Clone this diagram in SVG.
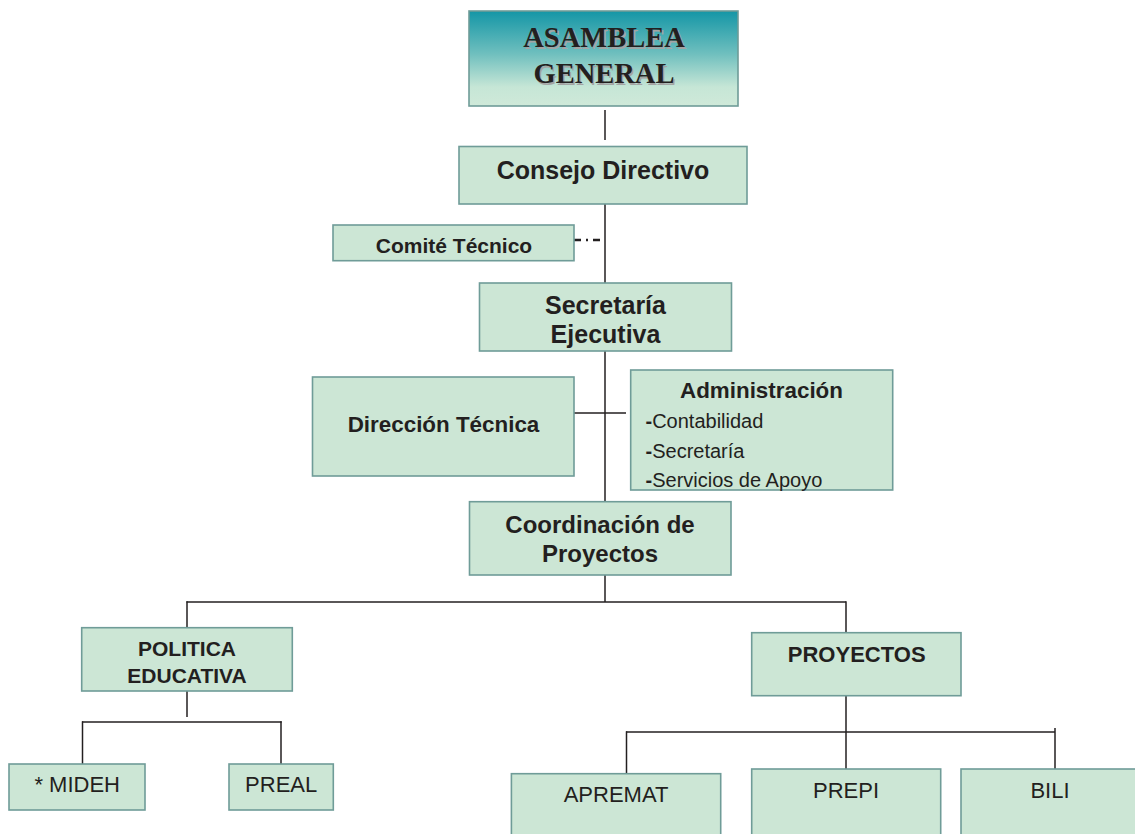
<svg xmlns="http://www.w3.org/2000/svg" width="1135" height="834" viewBox="0 0 1135 834">
  <defs>
    <linearGradient id="tealGrad" x1="0" y1="0" x2="0" y2="1">
      <stop offset="0" stop-color="#1496a6"/>
      <stop offset="0.45" stop-color="#6fbfbe"/>
      <stop offset="0.8" stop-color="#c6e6d6"/>
      <stop offset="1" stop-color="#cfe9d9"/>
    </linearGradient>
    <style>
      .box { fill: #cce6d5; stroke: #6f9c98; stroke-width: 1.6; }
      .top { fill: url(#tealGrad); stroke: #6f9c98; stroke-width: 1.6; }
      .b { font-family: "Liberation Sans", Arial, sans-serif; font-weight: bold; fill: #231f20; text-anchor: middle; }
      .r { font-family: "Liberation Sans", Arial, sans-serif; fill: #231f20; text-anchor: middle; }
      .l { font-family: "Liberation Sans", Arial, sans-serif; fill: #231f20; font-size: 20px; }
      .d { font-weight: bold; }
      .serif { font-family: "Liberation Serif", "Times New Roman", serif; font-weight: bold; font-size: 28.5px; text-anchor: middle; }
      .conn line { stroke: #231f20; stroke-width: 1.5; }
    </style>
  </defs>
  <rect width="1135" height="834" fill="#ffffff"/>

  <g class="conn" id="connectors">
    <line x1="605" y1="110" x2="605" y2="140"/>
    <line x1="605" y1="204" x2="605" y2="283"/>
    <line x1="574" y1="240" x2="603" y2="240" style="stroke-width:2.6;stroke-dasharray:7,5,2,5"/>
    <line x1="605" y1="351" x2="605" y2="502"/>
    <line x1="574" y1="413" x2="626" y2="413"/>
    <line x1="605" y1="575" x2="605" y2="602"/>
    <line x1="186.5" y1="602" x2="846" y2="602"/>
    <line x1="187" y1="601.3" x2="187" y2="628"/>
    <line x1="846" y1="601.3" x2="846" y2="633"/>
    <line x1="187" y1="691" x2="187" y2="717"/>
    <line x1="82" y1="722" x2="281.7" y2="722"/>
    <line x1="82.5" y1="721.3" x2="82.5" y2="764"/>
    <line x1="281" y1="721.3" x2="281" y2="764"/>
    <line x1="846" y1="696" x2="846" y2="769"/>
    <line x1="626" y1="732" x2="1055" y2="732"/>
    <line x1="626.5" y1="731.3" x2="626.5" y2="774"/>
    <line x1="1055" y1="728" x2="1055" y2="769"/>
  </g>

  <g id="asamblea">
    <rect class="top" x="469" y="11" width="269" height="95"/>
    <g fill="#a4a4a4">
      <text class="serif" x="605.5" y="48.5">ASAMBLEA</text>
      <text class="serif" x="605.5" y="84.5">GENERAL</text>
    </g>
    <g fill="#231f20">
      <text class="serif" x="604" y="47">ASAMBLEA</text>
      <text class="serif" x="604" y="83">GENERAL</text>
    </g>
  </g>

  <g id="consejo">
    <rect class="box" x="459" y="146.5" width="288" height="57.5"/>
    <text class="b" x="603" y="179" font-size="25">Consejo Directivo</text>
  </g>

  <g id="comite">
    <rect class="box" x="333" y="225" width="241" height="35.7"/>
    <text class="b" x="454" y="253" font-size="21">Comité Técnico</text>
  </g>

  <g id="secretaria">
    <rect class="box" x="479.5" y="283" width="252" height="68"/>
    <text class="b" x="605.5" y="314" font-size="25">Secretaría</text>
    <text class="b" x="605.5" y="343" font-size="25">Ejecutiva</text>
  </g>

  <g id="direccion">
    <rect class="box" x="312.5" y="377" width="261.5" height="99"/>
    <text class="b" x="443.5" y="431.7" font-size="22.4">Dirección Técnica</text>
  </g>

  <g id="administracion">
    <rect class="box" x="630.7" y="370" width="262" height="120"/>
    <text class="b" x="761.5" y="398" font-size="22.4">Administración</text>
    <text class="l" x="645.5" y="428.3"><tspan class="d">-</tspan>Contabilidad</text>
    <text class="l" x="645.5" y="458.3"><tspan class="d">-</tspan>Secretaría</text>
    <text class="l" x="645.5" y="486.7"><tspan class="d">-</tspan>Servicios de Apoyo</text>
  </g>

  <g id="coordinacion">
    <rect class="box" x="469.5" y="501.7" width="261.5" height="73.3"/>
    <text class="b" x="600" y="532.5" font-size="24">Coordinación de</text>
    <text class="b" x="600" y="562.3" font-size="24">Proyectos</text>
  </g>

  <g id="politica">
    <rect class="box" x="81.7" y="627.7" width="210.6" height="63.3"/>
    <text class="b" x="187" y="656" font-size="21">POLITICA</text>
    <text class="b" x="187" y="683.3" font-size="21">EDUCATIVA</text>
  </g>

  <g id="proyectos">
    <rect class="box" x="751.7" y="632.7" width="209.3" height="63"/>
    <text class="b" x="856.7" y="661.7" font-size="22">PROYECTOS</text>
  </g>

  <g id="mideh">
    <rect class="box" x="9" y="764" width="136" height="46"/>
    <text class="r" x="77.2" y="791.7" font-size="22">* MIDEH</text>
  </g>

  <g id="preal">
    <rect class="box" x="229" y="764" width="104.3" height="46"/>
    <text class="r" x="281.2" y="791.7" font-size="22">PREAL</text>
  </g>

  <g id="apremat">
    <rect class="box" x="511.4" y="773.7" width="209.3" height="70"/>
    <text class="r" x="616" y="802.3" font-size="22">APREMAT</text>
  </g>

  <g id="prepi">
    <rect class="box" x="751.7" y="769" width="189" height="75"/>
    <text class="r" x="846" y="797.7" font-size="22">PREPI</text>
  </g>

  <g id="bili">
    <rect class="box" x="961" y="769" width="185" height="75"/>
    <text class="r" x="1050" y="797.7" font-size="22">BILI</text>
  </g>
</svg>
